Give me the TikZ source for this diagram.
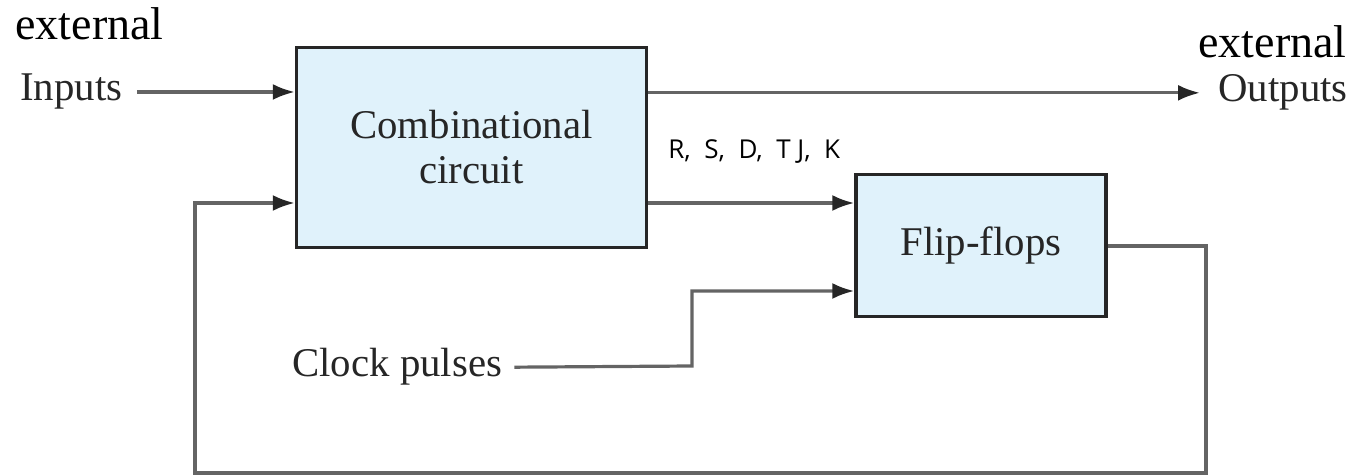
\documentclass[tikz,border=0pt]{standalone}
\usepackage{fontspec}
\setmainfont{Liberation Serif}
\newfontfamily\sigfont{Open Sans}
\usetikzlibrary{arrows.meta}
\usetikzlibrary{positioning}
\usetikzlibrary{calc}

\definecolor{blockfill}{HTML}{E0F2FB}
\definecolor{wire}{HTML}{646464}

\tikzset{
  block/.style={draw=black!85, line width=1.7pt, fill=blockfill, align=center,
    font=\fontsize{20.4}{22.5}\selectfont, text=black!85},
  lbl/.style={inner sep=0pt, font=\fontsize{20.4}{22.5}\selectfont, text=black!85},
  ext/.style={inner sep=0pt, font=\fontsize{23}{25}\selectfont},
  flow/.style={draw=wire, line width=1.6pt, -{Latex[length=11pt,width=8pt,color=black!85]}},
}

\begin{document}
\begin{tikzpicture}[x=0.5pt, y=-0.5pt]
            \useasboundingbox (0,0) rectangle (1359,475);

            % Blocks
            \node[block, minimum width=175pt, minimum height=100pt] (comb) at (471.5,147.5) {Combinational\\circuit};
            \node[block, minimum width=125pt, minimum height=71pt] (ff) at (981,245.5) {Flip-flops};

            % Labels
            \node[ext, anchor=base west] (extin) at (15,40) {external};
            \node[lbl, anchor=base west] (inputs) at (20,101) {Inputs};
            \node[ext, anchor=base west] (extout) at (1198,58) {external};
            \node[lbl, anchor=base west] (outputs) at (1218,102) {Outputs};
            \node[lbl, anchor=base west] (clock) at (292,377) {Clock pulses};
            \node[inner sep=0pt, anchor=base west, font=\sigfont\fontsize{13}{15}\selectfont] (sig) at (668,159) {R,\ \ S,\ \ D,\ \ T J,\ \ K};

            % Inputs and outputs
            \draw[flow] ([xshift=7pt]inputs.east) -- (inputs.east -| comb.west);
            \draw[flow] (outputs.west -| comb.east) -- ([xshift=-9pt]outputs.west);

            % Excitation to the flip-flops
            \draw[flow] (comb.east |- 0,203) -- (ff.west |- 0,203);

            % Clock
            \draw[flow] ([xshift=6pt]clock.east) -- (692,366) |- (ff.west |- 0,291);

            % Present state fed back
            \draw[flow] (ff.east |- 0,246) -- (1206,246) -- (1206,473) -- (195,473) |- (comb.west |- 0,203);

        \end{tikzpicture}
\end{document}
